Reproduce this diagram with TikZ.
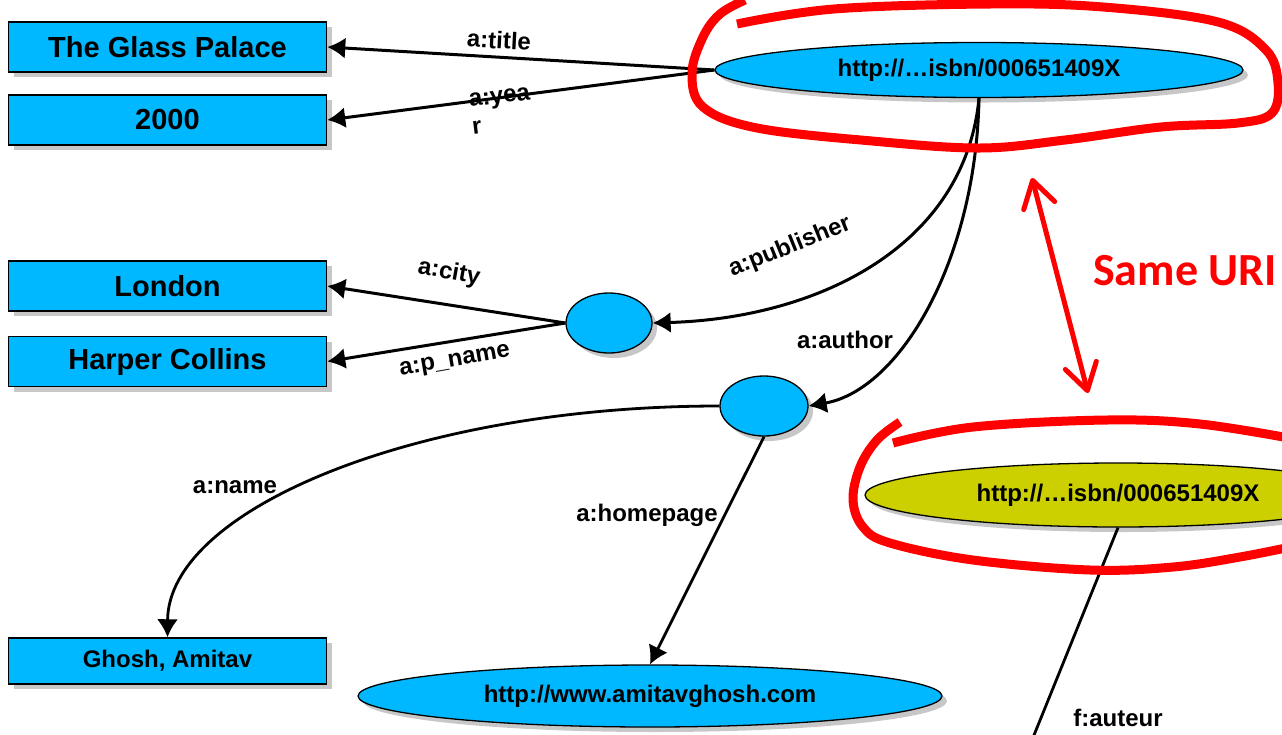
\documentclass[tikz,border=0pt]{standalone}
\usepackage{fontspec}
\setmainfont{Liberation Sans}
\newfontfamily\calib{Carlito}
\usetikzlibrary{arrows.meta,shapes.geometric,shadows}
\definecolor{rdfblue}{RGB}{0,184,255}
\definecolor{rdfolive}{RGB}{204,208,0}

\begin{document}
\begin{tikzpicture}[x=1pt, y=-1pt,
  >={Latex[length=18pt,width=21pt]},
  shd/.style={drop shadow={fill=black!22, opacity=1, shadow xshift=5pt, shadow yshift=-5pt}},
  lit/.style={draw, fill=rdfblue, line width=1.5pt, minimum width=318pt, minimum height=50pt,
    inner sep=0pt, font=\fontsize{29pt}{33pt}\selectfont\bfseries, shd},
  res/.style={ellipse, draw, fill=rdfblue, line width=1.3pt, inner sep=0pt,
    font=\fontsize{24pt}{28pt}\selectfont\bfseries, shd},
  lb/.style={inner sep=0pt, font=\fontsize{24pt}{28pt}\selectfont\bfseries},
  ln/.style={->, line width=3pt},
  loop/.style={draw=red, line width=9pt},
  same/.style={red, line width=5pt,
    {Straight Barb[length=26pt,width=32pt,round]}-{Straight Barb[length=26pt,width=32pt,round]}}]
  \useasboundingbox (0,0) rectangle (1282,734);
  % book
  \node[res, minimum width=528pt, minimum height=55pt] (isbn) at (979,70) {http://…isbn/000651409X};
  \node[lit] (glass) at (167.5,47)  {The Glass Palace};
  \node[lit] (year)  at (167.5,120) {2000};
  % publisher
  \node[res, minimum width=86pt, minimum height=60pt] (pub) at (609,323) {};
  \node[lit] (london) at (167.5,286)   {London};
  \node[lit] (harper) at (167.5,361.5) {Harper Collins};
  % author
  \node[res, minimum width=88pt, minimum height=60pt] (auth) at (764,406) {};
  \node[lit, minimum height=46pt, font=\fontsize{24pt}{28pt}\selectfont\bfseries] (ghosh) at (167.5,661) {Ghosh, Amitav};
  \node[res, minimum width=584pt, minimum height=62pt] (home) at (650,696) {http://www.amitavghosh.com};
  % other source
  \node[res, fill=rdfolive, minimum width=506pt, minimum height=64pt] (isbnf) at (1118,495) {http://…isbn/000651409X};
  \coordinate (fend) at (1030,745);
  % edges
  \draw[ln] (isbn.west) -- (glass.east);
  \draw[ln] (isbn.west) -- (year.east);
  \draw[ln] (isbn.south) .. controls (965,245) and (820,318) .. (pub.east);
  \draw[ln] (isbn.south) .. controls (976,260) and (900,390) .. (auth.east);
  \draw[ln] (pub.west) -- (london.east);
  \draw[ln] (pub.west) -- (harper.east);
  \draw[ln, line width=2.8pt] (auth.west) .. controls (415,406) and (168,510) .. (ghosh.north);
  \draw[ln, line width=2.8pt] (auth.south) -- (home.north);
  \draw[line width=2.8pt] (isbnf.south) -- (fend);
  % labels
  \node[lb, rotate=-3] (ltitle) at (499,40) {a:title};
  \node[lb, rotate=7, align=left, anchor=north west] (lyear) at (468,94) {a:yea\\r};
  \node[lb, rotate=-10] (lcity) at (449,273) {a:city};
  \node[lb, rotate=10] (lpname) at (455,362) {a:p\_name};
  \node[lb, rotate=22] (lpub) at (790,247) {a:publisher};
  \node[lb] (lauth) at (845,340) {a:author};
  \node[lb] (lname) at (235,487) {a:name};
  \node[lb] (lhome) at (647,515) {a:homepage};
  \node[lb] (laut) at (1118,718) {f:auteur};
  % same URI
  \coordinate (su) at (1032,178);
  \coordinate (sl) at (1088,393);
  \draw[same] (su) -- (sl);
  \node[red, anchor=west, inner sep=0pt, font=\calib\bfseries\fontsize{46pt}{50pt}\selectfont] (same) at (1093,271) {Same URI};
  % hand drawn loops
  \draw[loop] plot[smooth, tension=0.6] coordinates {(737,24) (834,9) (990,4) (1103,7) (1218,22)
    (1266,50) (1278,83) (1272,113) (1238,123) (1161,127) (1065,140) (980,148) (872,141)
    (757,128) (703,107) (692,73) (703,37) (720,14) (745,0)};
  \draw[loop] plot[smooth, tension=0.6] coordinates {(900,422) (877,440) (860,467) (853,500)
    (863,527) (890,543) (973,560) (1090,570) (1173,567) (1240,557) (1300,545)};
  \draw[loop] plot[smooth, tension=0.6] coordinates {(893,443) (973,427) (1107,420) (1200,424) (1300,440)};
\end{tikzpicture}
\end{document}
